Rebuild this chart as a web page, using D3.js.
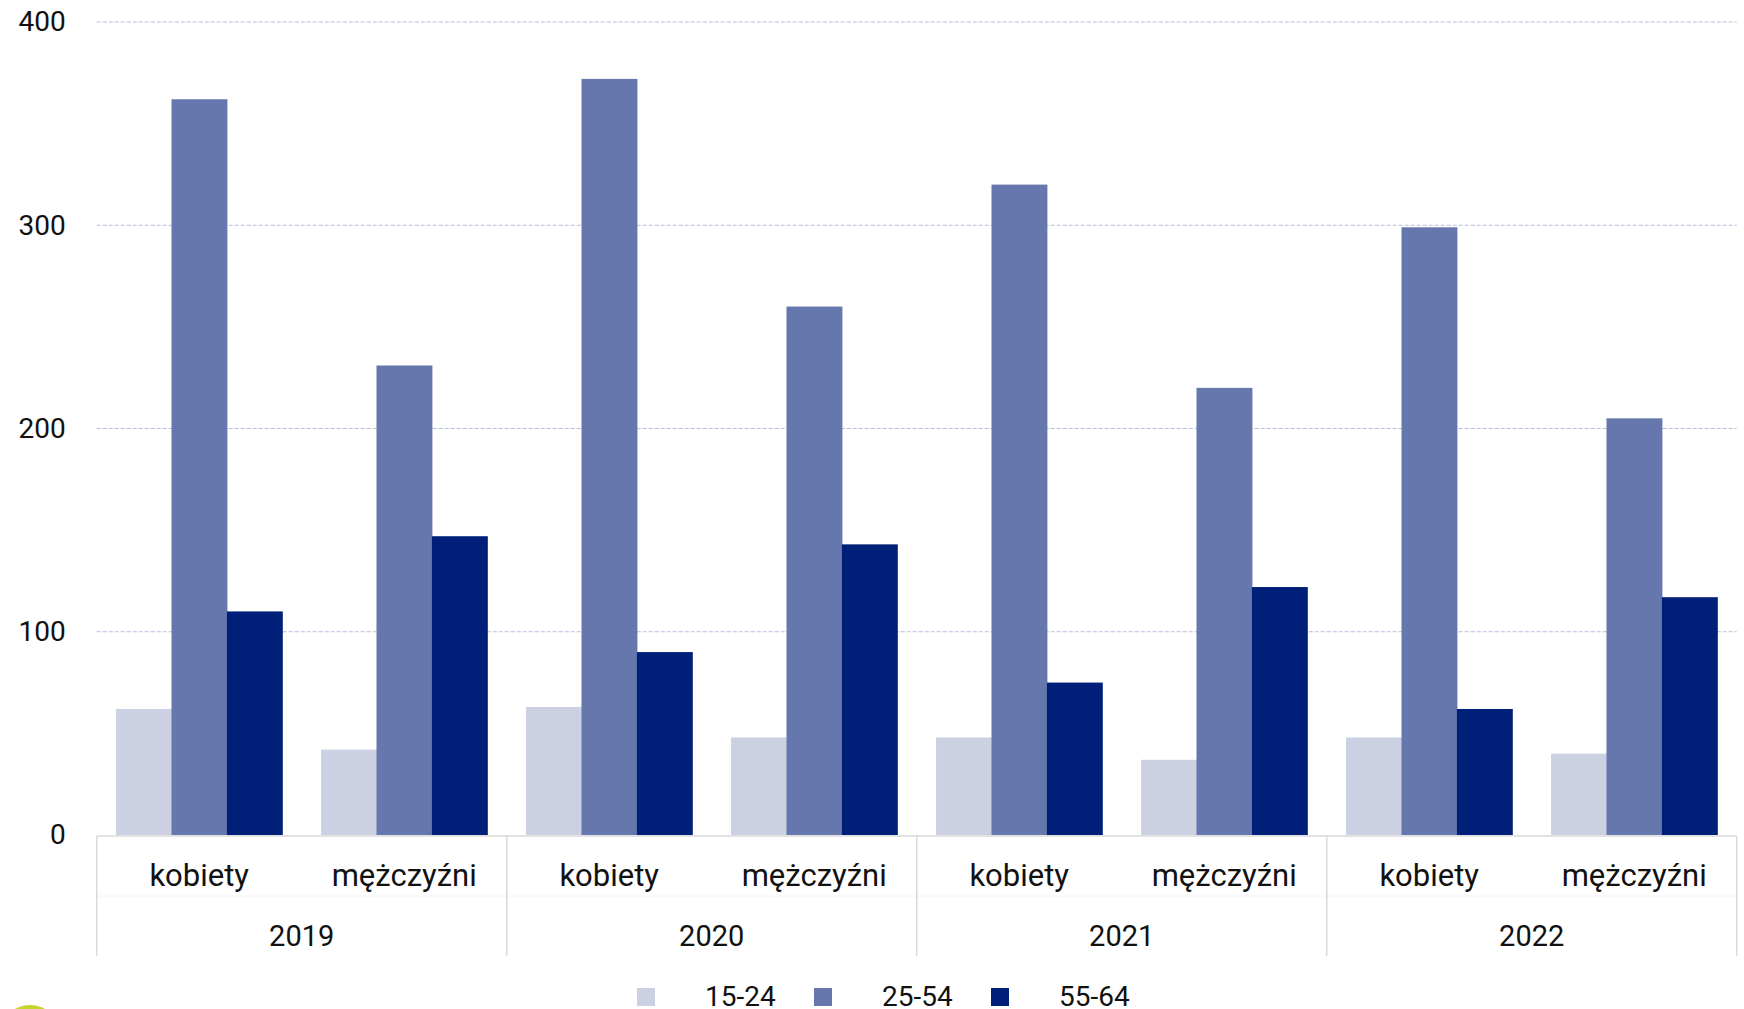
<!DOCTYPE html>
<html lang="pl">
  <head>
    <meta charset="UTF-8" />
    <title>Wykres</title>
    <script src="https://d3js.org/d3.v7.min.js" charset="utf-8"></script>
    <style>
      body { margin: 0; background: #fff; }
      text { font-family: Roboto, "Noto Sans", sans-serif; fill: #111; }
    </style>
  </head>
  <body>
    <div id="svgCanvas"></div>
    <script>
      // dane
      var years = ["2019", "2020", "2021", "2022"];
      var sexes = ["kobiety", "mężczyźni"];
      var ages = ["15-24", "25-54", "55-64"];
      var yTicks = [0, 100, 200, 300, 400];
      // kolejność: 2019 k, 2019 m, 2020 k, 2020 m, ...
      var v1524 = [62, 42, 63, 48, 48, 37, 48, 40];
      var v2554 = [362, 231, 372, 260, 320, 220, 299, 205];
      var v5564 = [110, 147, 90, 143, 75, 122, 62, 117];
      var colors = ["#cbd0e3", "#6677ad", "#001f78"];

      var W = 1744, H = 1009;
      var plotLeft = 96.7, plotRight = 1736.7, plotTop = 22, base = 835;

      var svg = d3.select("#svgCanvas").append("svg")
        .attr("width", W).attr("height", H);

      var series = [v1524, v2554, v5564];
      var data = [];
      years.forEach(function(yr, i) {
        sexes.forEach(function(s, j) {
          var k = i * 2 + j;
          data.push({ year: yr, sex: s, vals: ages.map(function(a, n) { return { age: a, v: series[n][k] }; }) });
        });
      });

      var x0 = d3.scaleBand().domain(years).range([plotLeft, plotRight]);
      var x1 = d3.scaleBand().domain(sexes).range([0, x0.bandwidth()]);
      var x2 = d3.scaleBand().domain(ages).range([0, x1.bandwidth()]).paddingOuter(0.35);
      var y = d3.scaleLinear().domain([0, 400]).range([base, plotTop]);
      var color = d3.scaleOrdinal().domain(ages).range(colors);

      // siatka
      svg.append("g").selectAll("line").data(yTicks.filter(function(d) { return d > 0; }))
        .join("line")
        .attr("x1", plotLeft).attr("x2", plotRight)
        .attr("y1", function(d) { return y(d); }).attr("y2", function(d) { return y(d); })
        .attr("stroke", "#b6bddb").attr("stroke-width", 1.2)
        .attr("stroke-dasharray", "4,2");

      // os Y
      var gY = svg.append("g")
        .attr("transform", "translate(" + (plotLeft - 31) + ",0)")
        .call(d3.axisLeft(y).tickValues(yTicks).tickSize(0).tickPadding(0));
      gY.select(".domain").remove();
      gY.selectAll("text").style("font-size", "28px").style("font-family", "Roboto").attr("fill", "#111");

      // slupki
      var grp = svg.append("g").selectAll("g").data(data).join("g")
        .attr("transform", function(d) { return "translate(" + (x0(d.year) + x1(d.sex)) + ",0)"; });
      grp.selectAll("rect").data(function(d) { return d.vals; }).join("rect")
        .attr("x", function(d) { return x2(d.age); })
        .attr("width", x2.bandwidth() + 0.5)
        .attr("y", function(d) { return y(d.v); })
        .attr("height", function(d) { return base - y(d.v); })
        .attr("fill", function(d) { return color(d.age); });

      // os X
      svg.append("line").attr("x1", plotLeft).attr("x2", plotRight)
        .attr("y1", base + 1).attr("y2", base + 1)
        .attr("stroke", "#d9d9d9").attr("stroke-width", 1.5);
      svg.append("line").attr("x1", plotLeft).attr("x2", plotRight)
        .attr("y1", 896).attr("y2", 896)
        .attr("stroke", "#f4f4f4").attr("stroke-width", 1);
      var seps = years.map(function(d) { return x0(d); }).concat([plotRight]);
      svg.append("g").selectAll("line").data(seps).join("line")
        .attr("x1", function(d) { return d; }).attr("x2", function(d) { return d; })
        .attr("y1", base + 1).attr("y2", 956)
        .attr("stroke", "#d9d9d9").attr("stroke-width", 1.5);

      svg.append("g").selectAll("text").data(data).join("text")
        .attr("x", function(d) { return x0(d.year) + x1(d.sex) + x1.bandwidth() / 2; })
        .attr("y", 875).attr("dy", "0.35em")
        .attr("text-anchor", "middle").style("font-size", "31px")
        .text(function(d) { return d.sex; });

      svg.append("g").selectAll("text").data(years).join("text")
        .attr("x", function(d) { return x0(d) + x0.bandwidth() / 2; })
        .attr("y", 936).attr("dy", "0.35em")
        .attr("text-anchor", "middle").style("font-size", "29px")
        .text(function(d) { return d; });

      // legenda
      var lg = svg.append("g").selectAll("g").data(ages).join("g")
        .attr("transform", function(d, i) { return "translate(" + (637 + i * 177) + ",988)"; });
      lg.append("rect").attr("width", 18).attr("height", 18)
        .attr("fill", function(d) { return color(d); });
      lg.append("text").attr("x", 68).attr("y", 18)
        .style("font-size", "28px").text(function(d) { return d; });

      // logo (uciete)
      svg.append("circle").attr("cx", 30).attr("cy", 1035).attr("r", 30).attr("fill", "#c5d52b");
    </script>
  </body>
</html>
